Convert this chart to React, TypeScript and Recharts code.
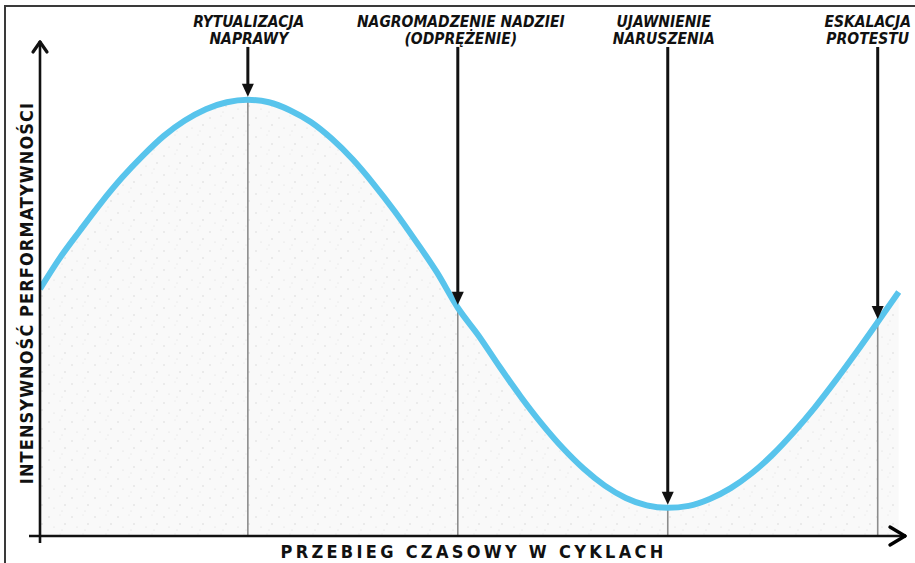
import React from "react";
import {
  ComposedChart,
  Area,
  Line,
  XAxis,
  YAxis,
  ReferenceLine,
} from "recharts";

// time in quarter-cycle tenths, intensity 0..100
const times = [
  0.1, 1, 2, 3, 4, 5, 6, 7, 8, 9, 10, 11, 12, 13, 14, 15, 16, 17, 18, 19, 20,
  21, 22, 23, 24, 25, 26, 27, 28, 29, 30, 31, 32, 33, 34, 35, 36, 37, 38, 39,
  40, 41,
];
const intensity = [
  50.0, 56.0, 61.8, 67.4, 72.5, 77.0, 81.0, 84.1, 86.4, 87.8, 88.3, 87.8, 86.2,
  83.8, 80.4, 76.2, 71.2, 65.7, 59.7, 53.4, 46.2, 40.5, 34.2, 28.2, 22.7, 17.8,
  13.6, 10.2, 7.7, 6.2, 5.7, 6.1, 7.5, 9.7, 12.7, 16.5, 21.0, 26.0, 31.5, 37.3,
  43.3, 49.4,
];

const eventTimes = [10, 20, 30, 40];
const eventLabels = [
  ["RYTUALIZACJA", "NAPRAWY"],
  ["NAGROMADZENIE NADZIEI", "(ODPRĘŻENIE)"],
  ["UJAWNIENIE", "NARUSZENIA"],
  ["ESKALACJA", "PROTESTU"],
];
const labelShift = [1, 3, -4, -10];
const arrowTop = 99;
const xDomain = [0.1, 41.3];

const xAxisTitle = "PRZEBIEG CZASOWY W CYKLACH";
const yAxisTitle = "INTENSYWNOŚĆ PERFORMATYWNOŚCI";

const data = times.map((t, i) => ({ t, v: intensity[i] }));
const valueAt = (t: number) => intensity[times.indexOf(t)];

const labelFont = "'DejaVu Sans Condensed', 'Liberation Sans Narrow', 'DejaVu Sans', sans-serif";
const titleFont = "'DejaVu Sans Condensed', 'DejaVu Sans', sans-serif";

const makeArrow = (lines: string[], shift: number) => (p: any) => {
  const x = p.x1;
  const top = Math.min(p.y1, p.y2);
  const tip = Math.max(p.y1, p.y2) - 3;
  return (
    <g>
      <line x1={x} y1={top} x2={x} y2={tip - 10} stroke="#111" strokeWidth={3} />
      <polygon
        points={`${x - 6},${tip - 13} ${x + 6},${tip - 13} ${x},${tip}`}
        fill="#111"
      />
      {lines.map((s, i) => (
        <text
          key={s}
          x={x + shift}
          y={top - 20 + i * 17}
          textAnchor="middle"
          fontFamily={labelFont}
          fontWeight="bold"
          fontStyle="italic"
          fontSize={15.5}
          fill="#111"
        >
          {s}
        </text>
      ))}
    </g>
  );
};

const stem = (p: any) => (
  <line x1={p.x1} y1={p.y1} x2={p.x2} y2={p.y2} stroke="#8c8c8c" strokeWidth={1.6} />
);

const xAxisShape = (p: any) => {
  const left = Math.min(p.x1, p.x2);
  const right = Math.max(p.x1, p.x2);
  const y = p.y1;
  return (
    <g>
      <line x1={left - 11} y1={y} x2={right - 1} y2={y} stroke="#111" strokeWidth={2.6} />
      <line x1={right - 15} y1={y - 9} x2={right} y2={y} stroke="#000" strokeWidth={3.4} strokeLinecap="round" />
      <line x1={right - 15} y1={y + 9} x2={right} y2={y} stroke="#000" strokeWidth={3.4} strokeLinecap="round" />
      <text
        x={(left + right) / 2 + 1}
        y={y + 22}
        textAnchor="middle"
        fontFamily={titleFont}
        fontWeight="bold"
        fontSize={18}
        letterSpacing={3.3}
        fill="#111"
      >
        {xAxisTitle}
      </text>
    </g>
  );
};

const yAxisShape = (p: any) => {
  const top = Math.min(p.y1, p.y2);
  const bottom = Math.max(p.y1, p.y2);
  const x = p.x1;
  const cy = (top + bottom) / 2 + 4;
  return (
    <g>
      <line x1={x} y1={bottom + 7} x2={x} y2={top + 1} stroke="#111" strokeWidth={2.6} />
      <line x1={x - 7} y1={top + 10} x2={x} y2={top} stroke="#111" strokeWidth={3.2} strokeLinecap="round" />
      <line x1={x + 7} y1={top + 10} x2={x} y2={top} stroke="#111" strokeWidth={3.2} strokeLinecap="round" />
      <text
        x={x - 7}
        y={cy}
        transform={`rotate(-90 ${x - 7} ${cy})`}
        textAnchor="middle"
        fontFamily={titleFont}
        fontWeight="bold"
        fontSize={18}
        letterSpacing={1.1}
        fill="#111"
      >
        {yAxisTitle}
      </text>
    </g>
  );
};

export default function App() {
  return (
    <div
      style={{
        position: "absolute",
        left: 0,
        top: 0,
        width: 915,
        height: 563,
        background: "#fff",
        overflow: "hidden",
      }}
    >
      <div
        style={{
          position: "absolute",
          left: 4,
          top: 5,
          width: 920,
          height: 556,
          borderLeft: "2px solid #3a3a3a",
          borderTop: "2px solid #3a3a3a",
          borderBottom: "1px solid #cfcfcf",
        }}
      />
      <div style={{ position: "absolute", left: 0, top: 0 }}>
        <ComposedChart
          width={915}
          height={563}
          data={data}
          margin={{ top: 42, right: 10, left: 40, bottom: 27 }}
        >
          <defs>
            <pattern id="speckle" width="23" height="19" patternUnits="userSpaceOnUse">
              <rect width="23" height="19" fill="#f9f9f9" />
              <circle cx="3" cy="4" r="0.7" fill="#d4d4d4" />
              <circle cx="14" cy="2" r="0.5" fill="#dedede" />
              <circle cx="19" cy="11" r="0.7" fill="#d0d0d0" />
              <circle cx="8" cy="14" r="0.6" fill="#dadada" />
              <circle cx="16" cy="17" r="0.5" fill="#d8d8d8" />
            </pattern>
          </defs>
          <XAxis dataKey="t" type="number" domain={xDomain} allowDataOverflow hide />
          <YAxis type="number" domain={[0, 100]} allowDataOverflow hide />
          <Area
            dataKey="v"
            type="monotone"
            stroke="none"
            fill="url(#speckle)"
            fillOpacity={1}
            isAnimationActive={false}
          />
          {eventTimes.map((t) => (
            <ReferenceLine
              key={`s${t}`}
              segment={[
                { x: t, y: 0 },
                { x: t, y: valueAt(t) },
              ]}
              shape={stem}
            />
          ))}
          <Line
            dataKey="v"
            type="monotone"
            stroke="#58c4ec"
            strokeWidth={6}
            dot={false}
            activeDot={false}
            isAnimationActive={false}
          />
          <ReferenceLine
            segment={[
              { x: xDomain[0], y: 0 },
              { x: xDomain[1], y: 0 },
            ]}
            ifOverflow="visible"
            shape={xAxisShape}
          />
          <ReferenceLine x={xDomain[0]} ifOverflow="visible" shape={yAxisShape} />
          {eventTimes.map((t, i) => (
            <ReferenceLine
              key={`a${t}`}
              segment={[
                { x: t, y: arrowTop },
                { x: t, y: valueAt(t) },
              ]}
              shape={makeArrow(eventLabels[i], labelShift[i])}
            />
          ))}
        </ComposedChart>
      </div>
    </div>
  );
}
